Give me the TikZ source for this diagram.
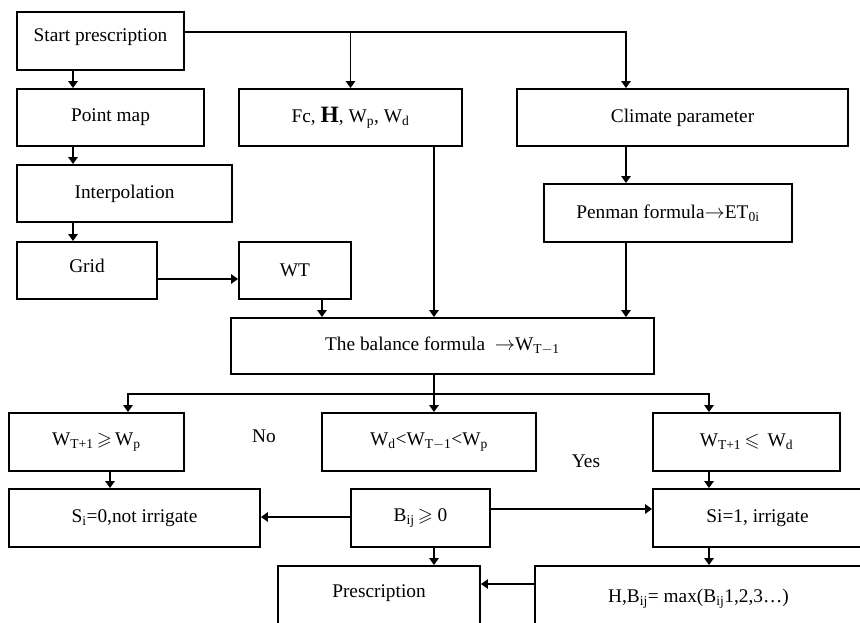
\documentclass[tikz,border=0pt]{standalone}
\usepackage{fontspec}
\usepackage{amssymb}
\setmainfont{Liberation Serif}
\usetikzlibrary{arrows.meta}

\tikzset{
  box/.style={draw, line width=1.6pt, inner sep=0pt, minimum height=17.1mm,
    font=\fontsize{16.5}{19}\selectfont},
  flow/.style={line width=1.6pt, -{Triangle[width=8pt,length=6pt]}},
  tag/.style={font=\fontsize{16.5}{19}\selectfont},
}

\begin{document}
\begin{tikzpicture}[x=0.3mm, y=-0.3mm]
	\useasboundingbox (0,0) rectangle (860,622);
	\clip (0,0) rectangle (860,622);
	% columns and rows of the connectors
	\coordinate (cL) at (73,0);
	\coordinate (cA) at (110,0);
	\coordinate (cB) at (128,0);
	\coordinate (cW) at (322,0);
	\coordinate (cM) at (434,0);
	\coordinate (cP) at (626,0);
	\coordinate (cR) at (709,0);
	\coordinate (rTop) at (0,32);
	\coordinate (rG) at (0,279);
	\coordinate (rBr) at (0,394);
	\coordinate (rS1) at (0,509);
	\coordinate (rS0) at (0,517);
	\coordinate (rH) at (0,584);
	% boxes
	\node[box, anchor=base, minimum height=0pt, text height=9mm, text depth=8.4mm, minimum width=50.1mm] (start) at (100.5,42) {Start prescription};
	\node[box, minimum width=56.1mm] (point) at (110.5,117.5) {Point map};
	\node[box, minimum width=66.9mm] (fc) at (350.5,117.5) {Fc, {\fontsize{20}{20}\selectfont\bfseries H}, W\textsubscript{p}, W\textsubscript{d}};
	\node[box, minimum width=99.3mm] (climate) at (682.5,117.5) {Climate parameter};
	\node[box, minimum width=64.5mm] (interp) at (124.5,193.5) {Interpolation};
	\node[box, anchor=base, minimum height=0pt, text height=9mm, text depth=8.1mm, minimum width=42mm] (grid) at (87,272) {Grid};
	\node[box, minimum width=33.6mm] (wt) at (295,270.5) {WT};
	\node[box, minimum width=74.4mm, minimum height=17.4mm] (penman) at (668,213) {Penman formula$\rightarrow$ET\textsubscript{0i}};
	\node[box, minimum width=126.9mm, minimum height=16.8mm] (balance) at (442.5,346) {The balance formula \ $\rightarrow$W\textsubscript{T$-$1}};
	\node[box, minimum width=52.5mm, minimum height=17.4mm] (ge) at (96.5,442) {W\textsubscript{T+1}\,$\geqslant$\,W\textsubscript{p}};
	\node[box, minimum width=64.2mm, minimum height=17.4mm] (mid) at (429,442) {W\textsubscript{d}<W\textsubscript{T$-$1}<W\textsubscript{p}};
	\node[box, minimum width=56.1mm, minimum height=17.4mm] (le) at (746.5,442) {W\textsubscript{T+1}\,$\leqslant$\, W\textsubscript{d}};
	\node[box, minimum width=75.3mm, minimum height=17.4mm] (s0) at (134.5,518) {S\textsubscript{i}=0,not irrigate};
	\node[box, minimum width=41.7mm, minimum height=17.4mm] (bij) at (420.5,518) {B\textsubscript{ij}\,$\geqslant$ 0};
	\node[box, minimum width=62.7mm, minimum height=17.4mm] (s1) at (757.5,518) {Si=1, irrigate};
	\node[box, anchor=base, minimum height=0pt, text height=9.3mm, text depth=18mm, minimum width=60.6mm] (presc) at (379,597) {Prescription};
	\node[box, anchor=base, minimum height=0pt, text height=10.8mm, text depth=18mm, minimum width=98.1mm] (hmax) at (698.5,602) {H,B\textsubscript{ij}= max(B\textsubscript{ij}1,2,3\ldots)};
	\node[tag] (no) at (264,436) {No};
	\node[tag] (yes) at (586,461) {Yes};
	% connectors
	\draw[flow] (start.east |- rTop) -| (climate.north -| cP);
	\draw[flow] (fc.north |- rTop) -- (fc.north);
	\draw[flow] (start.south -| cL) -- (point.north -| cL);
	\draw[flow] (point.south -| cL) -- (interp.north -| cL);
	\draw[flow] (interp.south -| cL) -- (grid.north -| cL);
	\draw[flow] (grid.east |- rG) -- (wt.west |- rG);
	\draw[flow] (wt.south -| cW) -- (balance.north -| cW);
	\draw[flow] (fc.south -| cM) -- (balance.north -| cM);
	\draw[flow] (climate.south -| cP) -- (penman.north -| cP);
	\draw[flow] (penman.south -| cP) -- (balance.north -| cP);
	\draw[line width=1.6pt] (balance.south -| cM) -- (cM |- rBr);
	\draw[flow] (cM |- rBr) -- (mid.north -| cM);
	\draw[flow] (cM |- rBr) -| (ge.north -| cB);
	\draw[flow] (cM |- rBr) -| (le.north -| cR);
	\draw[flow] (ge.south -| cA) -- (s0.north -| cA);
	\draw[flow] (le.south -| cR) -- (s1.north -| cR);
	\draw[flow] (s1.south -| cR) -- (hmax.north -| cR);
	\draw[flow] (bij.west |- rS0) -- (s0.east |- rS0);
	\draw[flow] (bij.east |- rS1) -- (s1.west |- rS1);
	\draw[flow] (bij.south -| cM) -- (presc.north -| cM);
	\draw[flow] (hmax.west |- rH) -- (presc.east |- rH);
\end{tikzpicture}
\end{document}
